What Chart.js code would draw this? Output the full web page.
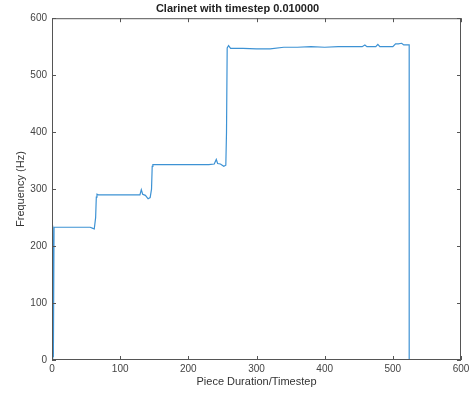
<!DOCTYPE html>
<html>
<head>
<meta charset="utf-8">
<script src="https://cdn.jsdelivr.net/npm/chart.js@4/dist/chart.umd.min.js"></script>
<style>
  html, body { margin: 0; padding: 0; background: #fff; }
  #wrap { width: 473px; height: 394px; }
</style>
</head>
<body>
<div id="wrap"><canvas id="chart" width="473" height="394"></canvas></div>
<script>
// 数据（步号 / 频率）
const steps = [0, 1, 2, 3, 10, 30, 50, 56, 60, 62, 64, 65, 66, 68, 80, 100, 120, 129, 131, 133, 137, 141, 144, 146, 147, 148,
  160, 200, 230, 238, 241, 243, 247, 252, 255, 256, 257, 259, 262, 280, 300, 320, 340, 360, 380, 400, 420, 440, 455,
  459, 462, 465, 475, 478, 481, 490, 500, 504, 508, 513, 516, 520, 524, 524];
const freqs = [0, 236, 5, 233, 233, 233, 233, 233, 231, 230, 250, 286, 291, 290, 290, 290, 290, 290, 299, 291, 289, 283, 285, 300, 340, 343,
  343, 343, 343, 344, 352, 345, 344, 340, 342, 400, 548, 552, 547, 547, 546, 546, 549, 549, 550, 549, 550, 550, 550,
  553, 550, 550, 550, 554, 550, 550, 550, 555, 555, 556, 553, 553, 553, 0];
const xTicks = [0, 100, 200, 300, 400, 500, 600];
const yTicks = [0, 100, 200, 300, 400, 500, 600];

const points = steps.map((s, i) => ({ x: s, y: freqs[i] }));

// 画边框和朝内的刻度线
const boxTicks = {
  id: 'boxTicks',
  afterDraw(chart) {
    const { ctx, chartArea: a, scales } = chart;
    ctx.save();
    ctx.strokeStyle = '#555';
    ctx.lineWidth = 1;
    ctx.strokeRect(a.left + 0.5, a.top + 0.5, a.right - a.left - 1, a.bottom - a.top - 1);
    ctx.beginPath();
    xTicks.forEach(v => {
      const px = Math.round(scales.x.getPixelForValue(v)) + 0.5;
      ctx.moveTo(px, a.bottom); ctx.lineTo(px, a.bottom - 4);
      ctx.moveTo(px, a.top); ctx.lineTo(px, a.top + 4);
    });
    yTicks.forEach(v => {
      const py = Math.round(scales.y.getPixelForValue(v)) + 0.5;
      ctx.moveTo(a.left, py); ctx.lineTo(a.left + 4, py);
      ctx.moveTo(a.right, py); ctx.lineTo(a.right - 4, py);
    });
    ctx.stroke();
    ctx.restore();
  }
};

const font = 'Liberation Sans, Arial, Helvetica, sans-serif';

new Chart(document.getElementById('chart').getContext('2d'), {
  type: 'line',
  data: {
    datasets: [{
      data: points,
      borderColor: '#3d92d4',
      borderWidth: 1.2,
      pointRadius: 0,
      tension: 0,
      fill: false
    }]
  },
  options: {
    responsive: false,
    animation: false,
    layout: { padding: { left: 14, right: 12, top: 0, bottom: 5 } },
    scales: {
      x: {
        type: 'linear',
        min: 0,
        max: 600,
        afterBuildTicks: s => { s.ticks = xTicks.map(v => ({ value: v })); },
        afterFit: s => { s.height = 29; },
        grid: { drawOnChartArea: false, drawTicks: false },
        border: { display: false },
        ticks: { color: '#444', font: { family: font, size: 10 }, padding: 3, maxRotation: 0 },
        title: { display: true, text: 'Piece Duration/Timestep', color: '#333', font: { family: font, size: 11 }, padding: { top: 0, bottom: 0 } }
      },
      y: {
        min: 0,
        max: 600,
        afterBuildTicks: s => { s.ticks = yTicks.map(v => ({ value: v })); },
        afterFit: s => { s.width = 38; },
        grid: { drawOnChartArea: false, drawTicks: false },
        border: { display: false },
        ticks: { color: '#444', font: { family: font, size: 10 }, padding: 5 },
        title: { display: true, text: 'Frequency (Hz)', color: '#333', font: { family: font, size: 11 }, padding: { top: 0, bottom: 2 } }
      }
    },
    plugins: {
      legend: { display: false },
      tooltip: { enabled: false },
      title: {
        display: true,
        text: 'Clarinet with timestep 0.010000',
        color: '#222',
        font: { family: font, size: 11, weight: 'bold' },
        padding: { top: 2, bottom: 3 }
      }
    }
  },
  plugins: [boxTicks]
});
</script>
</body>
</html>
